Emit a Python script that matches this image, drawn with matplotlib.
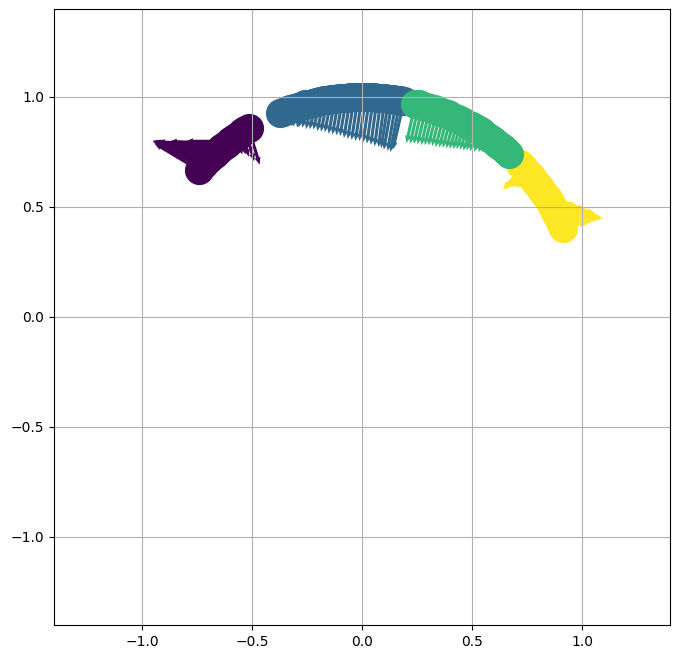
import numpy as np
import matplotlib
matplotlib.use("Agg")
import matplotlib.pyplot as plt

# Positions along the unit arc (degrees), per cluster
purple_deg = [121, 122, 123, 124, 125, 126, 127, 128, 129, 130, 131, 132, 133, 134,
              135, 136, 137, 138]
purple_u = [0.05, 0.04, 0.03, 0.03, 0.03, -0.10, -0.20, -0.26, -0.30, -0.30, -0.29,
            -0.28, -0.27, -0.255, -0.24, -0.225, -0.21, -0.20]
purple_v = [-0.165, -0.14, -0.11, -0.09, -0.08, 0.0, 0.0, 0.01, 0.02, 0.03, 0.04,
            0.055, 0.07, 0.08, 0.09, 0.10, 0.11, 0.12]

blue_deg = [112, 111, 110, 109, 108, 107, 106, 105, 104, 103, 102, 101, 100, 99, 98,
            97, 96, 95, 94, 93, 92, 91, 90, 89, 88, 87, 86, 85, 84, 83, 82, 81, 80, 79]
blue_u = [0.0, 0.0, 0.0, -0.01, -0.01, -0.02, -0.02, -0.03, -0.03, -0.03, -0.03, -0.03,
          -0.03, -0.03, -0.03, -0.03, -0.03, -0.03, -0.03, -0.03, -0.03, -0.03, -0.03,
          -0.03, -0.03, -0.03, -0.03, -0.03, -0.03, -0.035, -0.04, -0.04, -0.045, -0.05]
blue_v = [-0.06, -0.065, -0.07, -0.08, -0.085, -0.09, -0.10, -0.105, -0.11, -0.12,
          -0.125, -0.13, -0.14, -0.145, -0.15, -0.16, -0.165, -0.17, -0.175, -0.185,
          -0.19, -0.195, -0.20, -0.20, -0.205, -0.21, -0.215, -0.22, -0.222, -0.225,
          -0.23, -0.232, -0.235, -0.22]

green_deg = [76, 75, 74, 73, 72, 71, 70, 69, 68, 67, 66, 65, 64, 63, 62, 61, 60, 59,
             58, 57, 56, 55, 54, 53, 52, 51, 50, 49, 48]
green_u = [-0.04, -0.04, -0.04, -0.04, -0.04, -0.04, -0.04, -0.04, -0.04, -0.04,
           -0.04, -0.04, -0.04, -0.04, -0.04, -0.04, -0.04, -0.04, -0.04, -0.035,
           -0.03, -0.03, -0.03, -0.025, -0.02, -0.02, -0.02, -0.02, -0.02]
green_v = [-0.18, -0.178, -0.175, -0.172, -0.17, -0.165, -0.16, -0.157, -0.155, -0.15,
           -0.145, -0.14, -0.135, -0.128, -0.12, -0.115, -0.11, -0.10, -0.095, -0.088,
           -0.08, -0.07, -0.06, -0.055, -0.05, -0.045, -0.04, -0.035, -0.03]

yellow_deg = [44, 43, 42, 41, 40, 39, 38, 37, 36, 35, 34, 33, 32, 31, 30, 29, 28, 27,
              26, 25, 24]
yellow_u = [-0.05, -0.09, -0.10, -0.10, -0.09, -0.08, -0.03, 0.02, 0.03, 0.05, 0.10,
            0.14, 0.17, 0.20, 0.21, 0.22, 0.21, 0.19, 0.15, 0.12, 0.05]
yellow_v = [-0.05, -0.10, -0.09, -0.07, -0.05, -0.04, -0.02, -0.02, -0.02, -0.02,
            -0.03, -0.04, -0.04, -0.04, -0.04, -0.035, -0.02, -0.01, -0.005, 0.0, 0.0]

# drawing order: purple, blue, yellow, green (green sits on top of its neighbours)
clusters = [
    (purple_deg, purple_u, purple_v, 0.0),
    (blue_deg, blue_u, blue_v, 1 / 3),
    (yellow_deg, yellow_u, yellow_v, 1.0),
    (green_deg, green_u, green_v, 2 / 3),
]

ticks = [-1.0, -0.5, 0.0, 0.5, 1.0]

fig = plt.figure(figsize=(6.79, 6.59), dpi=100)
ax = fig.add_axes([54 / 679, 34 / 659, 616 / 679, 616 / 659])
cmap = plt.get_cmap("viridis")

for deg, u, v, c in clusters:
    th = np.deg2rad(np.array(deg, dtype=float))
    x = np.cos(th)
    y = np.sin(th)
    col = cmap(c)
    ax.quiver(x, y, np.array(u), np.array(v), color=col, angles="xy",
              scale_units="xy", scale=1, width=0.005, headwidth=2,
              headlength=2.5, headaxislength=2.3)
    ax.scatter(x, y, s=400, color=col)

ax.set_xlim(-1.4, 1.4)
ax.set_ylim(-1.4, 1.4)
ax.set_xticks(ticks)
ax.set_yticks(ticks)
ax.grid(True)
fig.savefig("out.png", dpi=100)
